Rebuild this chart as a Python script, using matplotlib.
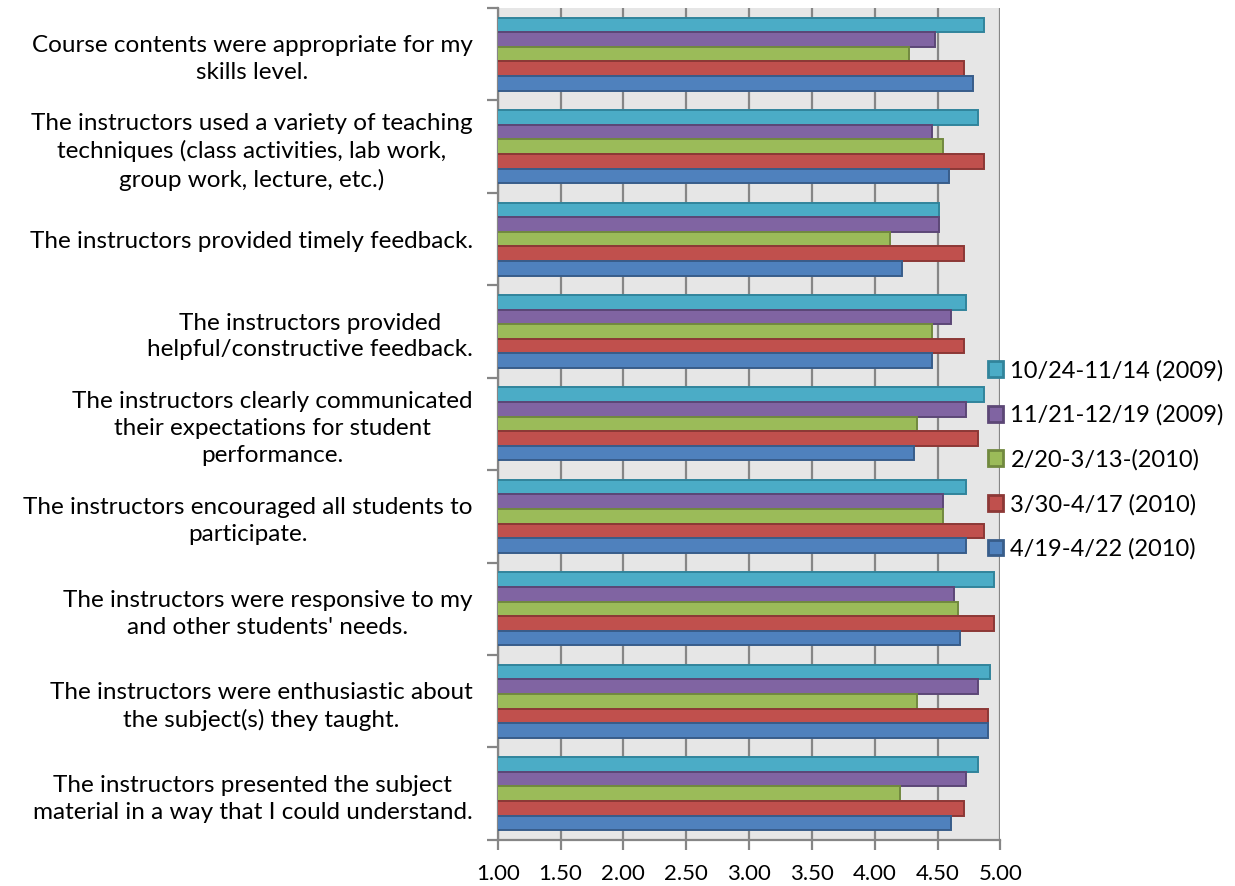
import numpy as np
import matplotlib.pyplot as plt
from matplotlib.patches import Rectangle

plt.rcParams["font.family"] = ["Lato", "DejaVu Sans"]

QUESTIONS = [
    "Course contents were appropriate for my\nskills level.",
    "The instructors used a variety of teaching\ntechniques (class activities, lab work,\ngroup work, lecture, etc.)",
    "The instructors provided timely feedback.",
    "The instructors provided\nhelpful/constructive feedback.",
    "The instructors clearly communicated\ntheir expectations for student\nperformance.",
    "The instructors encouraged all students to\nparticipate.",
    "The instructors were responsive to my\nand other students' needs.",
    "The instructors were enthusiastic about\nthe subject(s) they taught.",
    "The instructors presented the subject\nmaterial in a way that I could understand.",
]

SESSIONS = ["10/24-11/14 (2009)", "11/21-12/19 (2009)", "2/20-3/13-(2010)",
            "3/30-4/17 (2010)", "4/19-4/22 (2010)"]

s_2009_oct = [4.87, 4.82, 4.51, 4.73, 4.87, 4.73, 4.95, 4.92, 4.82]
s_2009_nov = [4.48, 4.46, 4.51, 4.61, 4.73, 4.54, 4.63, 4.82, 4.73]
s_2010_feb = [4.27, 4.54, 4.12, 4.46, 4.34, 4.54, 4.66, 4.34, 4.20]
s_2010_mar = [4.71, 4.87, 4.71, 4.71, 4.82, 4.87, 4.95, 4.90, 4.71]
s_2010_apr = [4.78, 4.59, 4.22, 4.46, 4.31, 4.73, 4.68, 4.90, 4.61]

SERIES = [s_2009_oct, s_2009_nov, s_2010_feb, s_2010_mar, s_2010_apr]
FACES = ["#4BACC6", "#8064A2", "#9BBB59", "#C0504D", "#4F81BD"]
EDGES = ["#31849B", "#5C4776", "#71893F", "#8C3836", "#385D8A"]

X_TICKS = [1.0, 1.5, 2.0, 2.5, 3.0, 3.5, 4.0, 4.5, 5.0]
GRID = "#868686"

fig = plt.figure(figsize=(12.35, 8.86), dpi=100)
ax = fig.add_axes([0.403, 0.052, 0.407, 0.939])
ax.set_facecolor("#E6E6E6")

n_cat = len(QUESTIONS)
bar_h = 0.158
y_base = np.arange(n_cat)
for i, (vals, fc, ec) in enumerate(zip(SERIES, FACES, EDGES)):
    offs = (i - 2) * bar_h
    ax.barh(y_base + offs, vals, height=bar_h, color=fc, edgecolor=ec,
            linewidth=1.4, zorder=3)

ax.set_xlim(1, 5)
ax.set_ylim(n_cat - 0.5, -0.5)

ax.set_xticks(X_TICKS)
ax.set_xticklabels([f"{v:.2f}" for v in X_TICKS], fontsize=16)
ax.xaxis.grid(True, color=GRID, linewidth=1.6, zorder=1)
ax.set_axisbelow(True)

ax.set_yticks(y_base)
ax.set_yticklabels(QUESTIONS, fontsize=17.5, linespacing=1.35)
for lab in ax.get_yticklabels():
    lab.set_multialignment("center")
ax.set_yticks(np.arange(n_cat + 1) - 0.5, minor=True)
ax.tick_params(axis="y", which="major", length=0, pad=18)
ax.tick_params(axis="y", which="minor", length=8, width=1.6, color=GRID)
ax.tick_params(axis="x", length=7, width=1.6, color=GRID, pad=10)

for side in ["top", "right"]:
    ax.spines[side].set_visible(False)
for side in ["left", "bottom"]:
    ax.spines[side].set_color(GRID)
    ax.spines[side].set_linewidth(1.6)

handles = [Rectangle((0, 0), 1, 1, facecolor=fc, edgecolor=ec, linewidth=2)
           for fc, ec in zip(FACES, EDGES)]
fig.legend(handles, SESSIONS, loc="center left",
           bbox_to_anchor=(0.800, 0.481), frameon=False, fontsize=17,
           handlelength=0.65, handleheight=0.65, handletextpad=0.3,
           labelspacing=0.98, borderpad=0, borderaxespad=0)

fig.savefig("out.png", dpi=100)
